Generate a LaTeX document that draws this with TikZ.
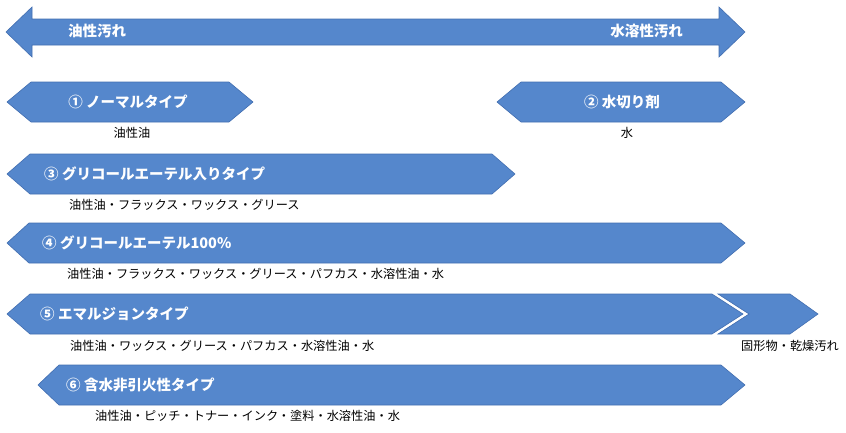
\documentclass[tikz,border=0pt]{standalone}
\usepackage{fontspec}
\setmainfont{Noto Sans CJK JP}
\definecolor{bandblue}{RGB}{85,135,204}
\definecolor{bandline}{RGB}{66,110,176}

\begin{document}
\begin{tikzpicture}[x=1pt,y=-1pt,
		band/.style={fill=bandblue,draw=bandline,line width=0.6pt,line join=miter},
		lbl/.style={text=white,font=\fontsize{14.5}{16}\selectfont\bfseries,inner sep=0pt},
		use/.style={font=\fontsize{12.2}{14}\selectfont,inner sep=0pt}]
		\useasboundingbox (0,0) rectangle (846,432);
		% oil <-> water scale
		\draw[band] (6,32)--(32,7)--(32,19)--(719,19)--(719,7)--(745,32)--(719,57)--(719,45)--(32,45)--(32,57)--cycle;
		\node[lbl,anchor=west] (oil) at (68,31) {油性汚れ};
		\node[lbl,anchor=east] (water) at (683,31) {水溶性汚れ};
		% types
		\draw[band] (7,102)--(31,82)--(229,82)--(253,102)--(229,122)--(31,122)--cycle;
		\node[lbl] (t1) at (128,102) {① ノーマルタイプ};
		\node[use] (t1use) at (132,133) {油性油};
		\draw[band] (497,102)--(521,82)--(721,82)--(745,102)--(721,122)--(521,122)--cycle;
		\node[lbl] (t2) at (622,102) {② 水切り剤};
		\node[use] (t2use) at (627,133) {水};
		\draw[band] (7,174)--(30,154)--(492,154)--(515,174)--(492,194)--(30,194)--cycle;
		\node[lbl,anchor=west] (t3) at (44,174) {③ グリコールエーテル入りタイプ};
		\node[use,anchor=west] (t3use) at (69,205) {油性油・フラックス・ワックス・グリース};
		\draw[band] (7,243)--(29,223)--(721,223)--(745,243)--(721,263)--(29,263)--cycle;
		\node[lbl,anchor=west] (t4) at (42,243) {④ グリコールエーテル100\%};
		\node[use,anchor=west] (t4use) at (67,274) {油性油・フラックス・ワックス・グリース・パフカス・水溶性油・水};
		\draw[band] (7,314)--(30,294)--(712,294)--(743,314)--(712,334)--(30,334)--cycle;
		\draw[band] (718,294)--(790,294)--(818,314)--(790,334)--(718,334)--(749,314)--cycle;
		\node[lbl,anchor=west] (t5) at (40,314) {⑤ エマルジョンタイプ};
		\node[use,anchor=west] (t5use) at (70,346) {油性油・ワックス・グリース・パフカス・水溶性油・水};
		\node[use] (t5solid) at (790,346) {固形物・乾燥汚れ};
		\draw[band] (38,385)--(59,365)--(721,365)--(745,385)--(721,405)--(59,405)--cycle;
		\node[lbl,anchor=west] (t6) at (66,385) {⑥ 含水非引火性タイプ};
		\node[use,anchor=west] (t6use) at (95,416) {油性油・ピッチ・トナー・インク・塗料・水溶性油・水};
	\end{tikzpicture}
\end{document}
